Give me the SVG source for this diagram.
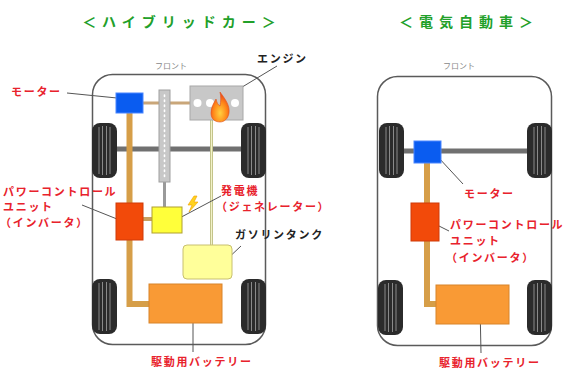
<svg xmlns="http://www.w3.org/2000/svg" width="567" height="371" viewBox="0 0 567 371">
  <style>
    .title { font-family: "Noto Sans CJK JP", "Noto Sans", sans-serif; font-size: 14px; font-weight: bold; fill: #22a02a; letter-spacing: 6px; text-anchor: middle; }
    .front { font-family: "Noto Sans CJK JP", "Noto Sans", sans-serif; font-size: 8px; fill: #888; }
    .red { font-family: "Noto Sans CJK JP", "Noto Sans", sans-serif; font-size: 11px; font-weight: bold; fill: #e8222c; letter-spacing: 1.7px; }
    .blk { font-family: "Noto Sans CJK JP", "Noto Sans", sans-serif; font-size: 11px; font-weight: bold; fill: #222; letter-spacing: 1.7px; }
    .body { fill: #fff; stroke: #5a5a5a; stroke-width: 1.5; }
    .axle { stroke: #707070; stroke-width: 5; }
    .drive { fill: none; stroke: #d69e48; stroke-width: 6; }
    .lead { fill: none; stroke: #555; stroke-width: 1; }
    .motor { fill: #0a5cf0; stroke: #4a86ff; stroke-width: 1; }
    .pcu { fill: #f24a0a; stroke: #d03a08; stroke-width: 1; }
    .batt { fill: #f99a35; stroke: #d8842a; stroke-width: 1; }
  </style>
  <defs>
    <g id="wheel">
      <rect x="0" y="0" width="25" height="55" rx="8" fill="#2b2b2b"/>
      <g stroke="#8a8a8a" stroke-width="1">
        <line x1="7" y1="4" x2="7" y2="51"/>
        <line x1="10.5" y1="3" x2="10.5" y2="52"/>
        <line x1="14.5" y1="3" x2="14.5" y2="52"/>
        <line x1="18" y1="4" x2="18" y2="51"/>
      </g>
    </g>
    <radialGradient id="fire" cx="0.5" cy="0.7" r="0.6">
      <stop offset="0" stop-color="#ffd040"/>
      <stop offset="0.6" stop-color="#ff8a1a"/>
      <stop offset="1" stop-color="#f0501a"/>
    </radialGradient>
  </defs>

  <!-- Titles -->
  <text class="title" x="182" y="27">＜ハイブリッドカー＞</text>
  <text class="title" x="469" y="27">＜電気自動車＞</text>

  <!-- ===== Hybrid car ===== -->
  <g id="hybrid-body">
    <text class="front" x="155" y="69">フロント</text>
    <rect class="body" x="92.5" y="74.5" width="173" height="270" rx="20"/>
    <line class="axle" x1="110" y1="149" x2="250" y2="149"/>
    <use href="#wheel" x="92" y="123"/>
    <use href="#wheel" x="241" y="123"/>
    <use href="#wheel" x="92" y="279"/>
    <use href="#wheel" x="241" y="279"/>
  </g>

  <g id="hybrid-connectors">
    <!-- motor to engine -->
    <line x1="143" y1="103" x2="190" y2="103" stroke="#c9a679" stroke-width="3"/>
    <!-- engine to fuel tank -->
    <line x1="211.5" y1="120" x2="211.5" y2="245" stroke="#c4c48a" stroke-width="3"/>
    <line x1="211.5" y1="120" x2="211.5" y2="245" stroke="#f2f2c8" stroke-width="1"/>
    <!-- shaft to generator -->
    <line x1="164.5" y1="182" x2="164.5" y2="207" stroke="#9a9a9a" stroke-width="3"/>
    <!-- motor / PCU / battery -->
    <path class="drive" d="M129.5,113 V304 H149"/>
    <!-- PCU to generator -->
    <line x1="143" y1="219" x2="152" y2="219" stroke="#c8a060" stroke-width="4"/>
    <!-- leaders -->
    <path class="lead" d="M67,93 L117,98"/>
    <path class="lead" d="M277,66 L229,95"/>
    <path class="lead" d="M82,205 L117,219"/>
    <path class="lead" d="M221,196 L172,222"/>
    <path class="lead" d="M241,246 L224,262"/>
    <path class="lead" d="M193,302 L193,352"/>
  </g>

  <g id="hybrid-shaft">
    <rect x="159" y="90" width="11" height="92" fill="#c8c8c8" stroke="#a0a0a0" stroke-width="1"/>
    <line x1="164.5" y1="95" x2="164.5" y2="178" stroke="#fff" stroke-width="1.6" stroke-dasharray="1.5 3.5" stroke-linecap="round"/>
  </g>

  <g id="hybrid-motor">
    <rect class="motor" x="116" y="93" width="27" height="20"/>
  </g>

  <g id="hybrid-engine">
    <rect x="190" y="86" width="53" height="34" fill="#c8c8c8" stroke="#a8a8a8" stroke-width="1"/>
    <circle cx="197.5" cy="103" r="4" fill="#fff"/>
    <circle cx="210" cy="103" r="4" fill="#fff"/>
    <circle cx="235" cy="103" r="4" fill="#fff"/>
    <path d="M220,92 C226,100 230,106 229,113 C228,119 224,122 220,122 C215,122 211,119 211,113 C211,107 214,103 216,99 C217,103 218,105 220,106 C221,101 221,97 220,92 Z" fill="url(#fire)" stroke="#e0501a" stroke-width="0.6"/>
  </g>

  <g id="hybrid-pcu">
    <rect class="pcu" x="116" y="203" width="27" height="37"/>
  </g>

  <g id="hybrid-generator">
    <rect x="152" y="207" width="30" height="26" fill="#ffff3a" stroke="#b0a030" stroke-width="1"/>
    <path d="M194,196 L188,205 L192,205 L189,212 L198,202 L194,202 L197,196 Z" fill="#ffd21f" stroke="#f0a000" stroke-width="0.6"/>
  </g>

  <g id="hybrid-tank">
    <rect x="183" y="245" width="49" height="34" rx="4" fill="#ffff9a" stroke="#c8c070" stroke-width="1"/>
  </g>

  <g id="hybrid-battery">
    <rect class="batt" x="149" y="284" width="73" height="39"/>
  </g>

  <g id="hybrid-labels">
    <text class="red" x="11" y="96">モーター</text>
    <text class="blk" x="257" y="63">エンジン</text>
    <text class="red" x="3" y="196">パワーコントロール</text>
    <text class="red" x="3" y="211">ユニット</text>
    <text class="red" x="0" y="227">（インバータ）</text>
    <text class="red" x="221" y="195">発電機</text>
    <text class="red" x="216" y="211">（ジェネレーター）</text>
    <text class="blk" x="235" y="239">ガソリンタンク</text>
    <text class="red" x="151" y="366">駆動用バッテリー</text>
  </g>

  <!-- ===== Electric car ===== -->
  <g id="ev-body">
    <text class="front" x="443" y="69">フロント</text>
    <rect class="body" x="377.5" y="76.5" width="174" height="269" rx="20"/>
    <line class="axle" x1="395" y1="151" x2="535" y2="151"/>
    <use href="#wheel" x="379" y="123"/>
    <use href="#wheel" x="527" y="123"/>
    <use href="#wheel" x="378" y="280"/>
    <use href="#wheel" x="527" y="280"/>
  </g>

  <g id="ev-connectors">
    <path class="drive" d="M427,163 V304 H437"/>
    <path class="lead" d="M438,157 L463,184"/>
    <path class="lead" d="M439,226 L449,231"/>
    <path class="lead" d="M480,305 L481,353"/>
  </g>

  <g id="ev-motor">
    <rect class="motor" x="414" y="141" width="27" height="22"/>
  </g>

  <g id="ev-pcu">
    <rect class="pcu" x="411" y="203" width="28" height="38"/>
  </g>

  <g id="ev-battery">
    <rect class="batt" x="436" y="285" width="73" height="39"/>
  </g>

  <g id="ev-labels">
    <text class="red" x="464" y="198">モーター</text>
    <text class="red" x="450" y="229">パワーコントロール</text>
    <text class="red" x="450" y="245">ユニット</text>
    <text class="red" x="446" y="262">（インバータ）</text>
    <text class="red" x="439" y="367">駆動用バッテリー</text>
  </g>
</svg>
